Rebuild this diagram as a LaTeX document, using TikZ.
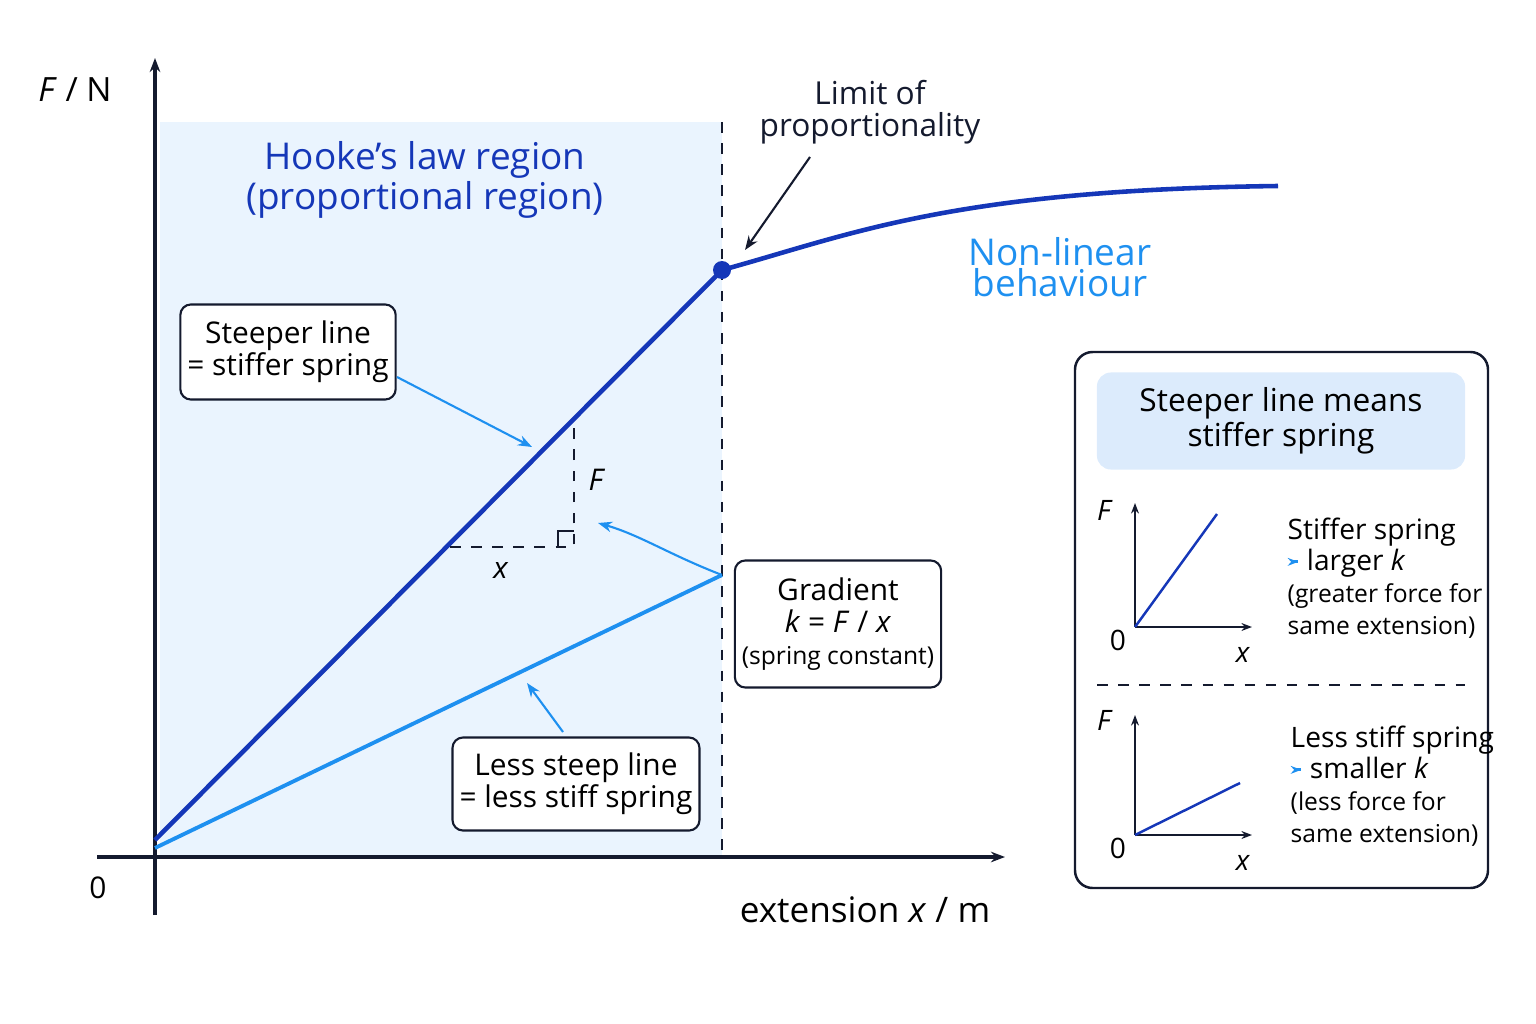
\documentclass[tikz,border=0pt]{standalone}
\usepackage{fontspec}
\setmainfont{Open Sans}
\usetikzlibrary{arrows.meta,positioning}
\definecolor{deepblue}{HTML}{1537B8}
\definecolor{skyblue}{HTML}{1E90F0}
\definecolor{regionblue}{HTML}{EAF4FE}
\definecolor{titleblue}{HTML}{DCEBFC}
\definecolor{inkblack}{HTML}{141A2E}
\newcommand{\bluearrow}{\tikz[baseline=-0.6ex]\draw[skyblue, line width=0.8pt, -{Stealth[length=3pt]}] (0,0) -- (0.32,0);}
\begin{document}
\begin{tikzpicture}[
    x = 0.01cm, y = -0.01cm, % pixel grid
    > = {Stealth[length=4pt]},
    line width = 0.5pt,
    font = \fontsize{7.5}{9}\selectfont
    ]

    \tikzset{every label box/.style={draw = inkblack, line width = 0.6pt, fill = white, rounded corners = 3pt, align = center, inner sep = 2pt},
    hint/.style={->, skyblue, line width = 0.6pt},
    tiny axis/.style={->, inkblack, line width = 0.6pt, > = {Stealth[length=3pt]}}}

    \useasboundingbox (0,0) rectangle (1536,1024);
    \fill[regionblue] (160,122) rectangle (722,857);

    % axes
    \coordinate (o) at (155,857);
    \draw[->, inkblack, line width=0.9pt] (155,915) -- (155,58);
    \draw[->, inkblack, line width=0.9pt] (97,857) -- (1005,857);
    \node (fn) at (75,90) {\fontsize{9.5}{11}\selectfont\textit{F} / N};
    \node (zero) at (98,888) {\fontsize{8.5}{10}\selectfont 0};
    \node (ext) at (865,910) {\fontsize{10}{12}\selectfont extension \textit{x} / m};

    % limit
    \draw[dashed, inkblack, line width=0.6pt] (722,122) -- (722,857);
    \coordinate (lim) at (722,270);
    \draw[deepblue, line width=1.3pt] (155,840) -- (lim)
        .. controls (850,235) and (950,190) .. (1278,186);
    \fill[deepblue] (lim) circle (9);
    \coordinate (soft) at (722,575);
    \draw[skyblue, line width=1.1pt] (155,848) -- (soft);

    % gradient triangle
    \coordinate (ta) at (450,547);
    \coordinate (tb) at (574,547);
    \coordinate (tc) at (574,420);
    \draw[dashed, inkblack, line width=0.6pt] (ta) -- (tb) -- (tc);
    \draw[inkblack, line width=0.6pt] (558,547) -- (558,531) -- (574,531);
    \node (tF) at (597,480) {\fontsize{8.5}{10}\selectfont\textit{F}};
    \node (tx) at (501,570) {\fontsize{8.5}{10}\selectfont\textit{x}};

    \node[deepblue, align=center] (hooke) at (425,180) {\fontsize{10.5}{12.5}\selectfont Hooke’s law region\\ \fontsize{10.5}{12.5}\selectfont(proportional region)};
    \node[inkblack, align=center] (limtxt) at (870,112) {\fontsize{9}{10.5}\selectfont Limit of\\ \fontsize{9}{10.5}\selectfont proportionality};
    \draw[->, inkblack, line width=0.6pt] (810,157) -- (745,250);
    \node[skyblue, align=center] (nonlin) at (1060,267) {\fontsize{10.5}{12}\selectfont Non-linear\\ \fontsize{10.5}{12}\selectfont behaviour};

    \node[every label box, minimum width=2.04cm, minimum height=0.95cm] (steep) at (288,352) {\fontsize{8.5}{10}\selectfont Steeper line\\ \fontsize{8.5}{10}\selectfont = stiffer spring};
    \draw[hint] (397,377) -- (532,447);
    \node[every label box, minimum width=1.97cm, minimum height=1.27cm] (grad) at (838,624) {\fontsize{8.5}{10}\selectfont Gradient\\ \fontsize{8.5}{10}\selectfont\textit{k} = \textit{F} / \textit{x}\\ {\fontsize{7}{10}\selectfont(spring constant)}};
    \draw[hint] (soft) .. controls (670,555) and (640,535) .. (598,523);
    \node[every label box, minimum width=2.22cm, minimum height=0.93cm] (less) at (576,784) {\fontsize{8.5}{10}\selectfont Less steep line\\ \fontsize{8.5}{10}\selectfont = less stiff spring};
    \draw[hint] (563,732) -- (527,683);

    % side panel
    \draw[inkblack, line width=0.7pt, rounded corners=5pt] (1075,352) rectangle (1488,888);
    \node[fill=titleblue, rounded corners=4pt, minimum width=3.68cm, minimum height=0.97cm, align=center] (title) at (1281,421) {\fontsize{9}{11}\selectfont Steeper line means\\ \fontsize{9}{11}\selectfont stiffer spring};

    \coordinate (o1) at (1135,627);
    \draw[tiny axis] (o1) -- (1135,503);
    \draw[tiny axis] (o1) -- (1252,627);
    \draw[deepblue, line width=0.7pt] (o1) -- (1217,514);
    \node (f1) at (1105,510) {\fontsize{8}{10}\selectfont\textit{F}};
    \node (z1) at (1118,640) {\fontsize{8}{10}\selectfont 0};
    \node (x1) at (1243,655) {\fontsize{8}{10}\selectfont\textit{x}};
    \node[align=left, anchor=north west, inner sep=0pt] (t1) at (1287,517) {\fontsize{8}{10}\selectfont Stiffer spring\\ \fontsize{8}{10}\selectfont\bluearrow{} larger \textit{k}\\ {\fontsize{7}{9.5}\selectfont(greater force for}\\ {\fontsize{7}{9.5}\selectfont same extension)}};

    \draw[dashed, inkblack, line width=0.6pt] (1097,685) -- (1465,685);

    \coordinate (o2) at (1135,835);
    \draw[tiny axis] (o2) -- (1135,715);
    \draw[tiny axis] (o2) -- (1252,835);
    \draw[deepblue, line width=0.7pt] (o2) -- (1240,783);
    \node (f2) at (1105,720) {\fontsize{8}{10}\selectfont\textit{F}};
    \node (z2) at (1118,848) {\fontsize{8}{10}\selectfont 0};
    \node (x2) at (1243,863) {\fontsize{8}{10}\selectfont\textit{x}};
    \node[align=left, anchor=north west, inner sep=0pt] (t2) at (1290,725) {\fontsize{8}{10}\selectfont Less stiff spring\\ \fontsize{8}{10}\selectfont\bluearrow{} smaller \textit{k}\\ {\fontsize{7}{9.5}\selectfont(less force for}\\ {\fontsize{7}{9.5}\selectfont same extension)}};
\end{tikzpicture}
\end{document}
